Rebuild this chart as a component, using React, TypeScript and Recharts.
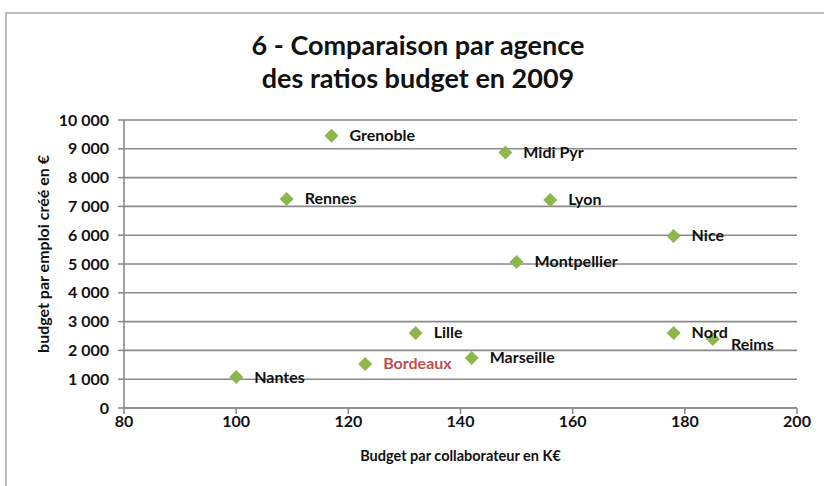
import React from 'react';
import { ScatterChart, Scatter, XAxis, YAxis, CartesianGrid, LabelList, Label } from 'recharts';

const agencies = ['Grenoble', 'Midi Pyr', 'Rennes', 'Lyon', 'Nice', 'Montpellier', 'Lille', 'Nord', 'Reims', 'Marseille', 'Bordeaux', 'Nantes'];
const budgetPerCollab = [117, 148, 109, 156, 178, 150, 132, 178, 185, 142, 123, 100];
const budgetPerJob = [9450, 8870, 7260, 7220, 5970, 5070, 2600, 2600, 2400, 1740, 1530, 1080];
const xTicks = [80, 100, 120, 140, 160, 180, 200];
const yTicks = [0, 1000, 2000, 3000, 4000, 5000, 6000, 7000, 8000, 9000, 10000];

const data = agencies.map((name, i) => ({ name, x: budgetPerCollab[i], y: budgetPerJob[i] }));

const FONT = 'Lato, "Open Sans", sans-serif';

const fmt = (v: number) => (v >= 1000 ? `${Math.floor(v / 1000)} ${String(v % 1000).padStart(3, '0')}` : String(v));

const Diamond = ({ cx, cy }: any) => (
  <path d={`M${cx},${cy - 7}L${cx + 7},${cy}L${cx},${cy + 7}L${cx - 7},${cy}Z`} fill="#8DB64C" />
);

const PointLabel = ({ x, y, width, height, value }: any) => {
  const cx = x + width / 2;
  const cy = y + height / 2;
  const dy = value === 'Reims' ? 7 : value === 'Nantes' ? 2 : 1;
  return (
    <text
      x={cx + 18}
      y={cy + dy}
      dominantBaseline="middle"
      fontFamily={FONT}
      fontWeight={700}
      fontSize={16}
      fill={value === 'Bordeaux' ? '#C0504D' : '#111'}
    >
      {value}
    </text>
  );
};

export default function App() {
  return (
    <div style={{ position: 'absolute', left: 0, top: 0, width: 824, height: 486, background: '#fff', overflow: 'hidden' }}>
      <div
        style={{
          position: 'absolute',
          left: 5,
          top: 12,
          width: 900,
          height: 600,
          borderLeft: '2px solid #bdbdbd',
          borderTop: '2px solid #bdbdbd',
        }}
      />
      <div
        style={{
          position: 'absolute',
          left: 0,
          top: 28,
          width: 836,
          textAlign: 'center',
          fontFamily: FONT,
          fontWeight: 700,
          fontSize: 27,
          lineHeight: '33px',
          color: '#111',
        }}
      >
        6 - Comparaison par agence
        <br />
        des ratios budget en 2009
      </div>
      <ScatterChart width={824} height={486} margin={{ top: 120, right: 27, bottom: 48, left: 0 }} style={{ position: 'absolute', left: 0, top: 0 }}>
        <CartesianGrid horizontal vertical={false} stroke="#8a8a8a" strokeWidth={1.6} />
        <XAxis
          type="number"
          dataKey="x"
          domain={[80, 200]}
          ticks={xTicks}
          height={30}
          stroke="#8a8a8a"
          strokeWidth={1.6}
          tickSize={6}
          tick={{ fill: '#111', fontFamily: FONT, fontWeight: 700, fontSize: 16 }}
        >
          <Label value="Budget par collaborateur en K€" position="insideBottom" offset={-23} fill="#111" fontFamily={FONT} fontWeight={700} fontSize={14.5} />
        </XAxis>
        <YAxis
          type="number"
          dataKey="y"
          domain={[0, 10000]}
          ticks={yTicks}
          width={124}
          stroke="#8a8a8a"
          strokeWidth={1.6}
          tickSize={6}
          tickMargin={9}
          tickFormatter={fmt}
          tick={{ fill: '#111', fontFamily: FONT, fontWeight: 700, fontSize: 16 }}
        >
          <Label value="budget par emploi créé en €" angle={-90} position="center" dx={-19} dy={-10} fill="#111" fontFamily={FONT} fontWeight={700} fontSize={16} />
        </YAxis>
        <Scatter data={data} shape={<Diamond />} isAnimationActive={false}>
          <LabelList dataKey="name" content={<PointLabel />} />
        </Scatter>
      </ScatterChart>
    </div>
  );
}
